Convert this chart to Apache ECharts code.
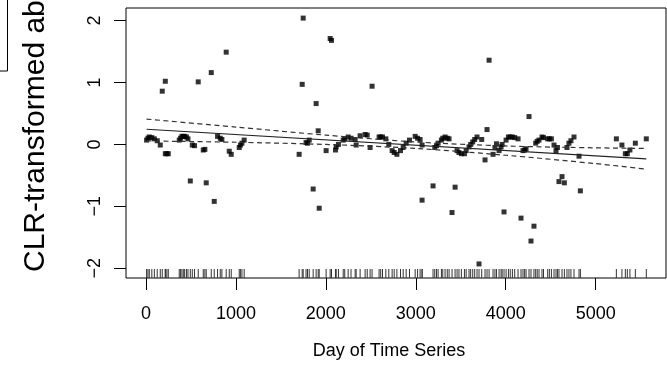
<!DOCTYPE html>
<html>
<head>
<meta charset="utf-8">
<script src="https://cdn.jsdelivr.net/npm/echarts@6/dist/echarts.min.js"></script>
<style>
html,body{margin:0;padding:0;background:#fff;}
#chart{width:667px;height:371px;}
</style>
</head>
<body>
<div id="chart"></div>
<script>
// Observations: day of time series and CLR-transformed abundance
const days = [
  7,22,37,65,93,125,159,181,215,215,232,248,370,385,400,415,430,450,467,493,515,540,581,637,655,670,726,759,796,826,844,892,926,948,1037,1050,1067,1092,
  1703,1737,1748,1780,1796,1815,1859,1892,1915,1926,2003,2048,2063,2107,2115,2140,2193,2210,2248,2280,2326,2337,2381,2437,2460,2492,2514,
  2592,2610,2630,2667,2700,2737,2760,2790,2830,2860,2893,2930,
  2993,3020,3048,3070,3070,3192,3211,3230,3248,3285,3300,3326,3350,3370,3403,3437,3459,3480,3507,3541,3560,3592,3610,3633,3655,3681,3703,3733,3770,
  3792,3815,3859,3880,3897,3926,3948,3960,3981,4004,4030,4050,4074,4100,4137,4170,4192,4210,4226,4259,4281,4314,4333,4350,4370,4403,4420,
  4467,4485,4508,4537,4559,4575,4592,4626,4652,4681,4703,4725,4759,4815,4830,
  5230,5292,5330,5352,5381,5441,5563];
const values = [
  0.07,0.10,0.12,0.11,0.09,0.06,-0.01,0.86,1.02,-0.15,-0.15,-0.15,0.07,0.10,0.13,0.13,0.13,0.12,0.09,-0.59,-0.01,-0.02,1.01,-0.09,-0.08,-0.62,1.16,-0.92,0.13,0.10,0.08,1.49,-0.11,-0.16,-0.05,-0.01,0.02,0.07,
  -0.16,0.97,2.04,0.03,0.02,0.07,-0.72,0.66,0.22,-1.03,-0.10,1.71,1.68,-0.09,-0.04,0.00,0.07,0.09,0.12,0.10,0.08,-0.01,0.14,0.16,0.15,-0.05,0.94,
  0.12,0.12,0.12,0.09,0.00,-0.10,-0.13,-0.16,-0.10,-0.05,0.02,0.07,
  0.13,0.10,0.08,-0.01,-0.90,-0.67,-0.05,-0.02,0.02,0.07,0.10,0.12,0.10,0.09,-1.10,-0.69,-0.10,-0.13,-0.15,-0.15,-0.10,-0.04,0.00,0.04,0.08,0.12,-1.93,0.08,-0.25,
  0.24,1.36,-0.16,-0.05,0.01,-0.10,-0.04,0.00,-1.09,0.07,0.12,0.12,0.12,0.11,0.09,-1.19,-0.10,-0.09,-0.07,0.45,-1.56,-1.32,0.02,0.05,0.07,0.12,0.11,
  0.09,0.09,0.09,-0.01,-0.10,-0.05,-0.60,-0.52,-0.62,-0.05,0.02,0.06,0.12,-0.19,-0.75,
  0.09,-0.01,-0.15,-0.15,-0.09,0.02,0.09];

// Fitted regression line
const fitDays = [7, 5563];
const fitValues = [0.245, -0.234];

// Confidence band (dashed)
const bandDays = [7, 1000, 2000, 3000, 4000, 5000, 5563];
const upperBand = [0.41, 0.28, 0.15, 0.04, -0.025, -0.055, -0.065];
const lowerBand = [0.056, 0.035, 0.0, -0.065, -0.175, -0.31, -0.40];

// Axis ticks
const xTicks = [0, 1000, 2000, 3000, 4000, 5000];
const yTicks = [-2, -1, 0, 1, 2];

const X_MIN = -222, X_MAX = 5782;
const Y_MIN = -2.157, Y_MAX = 2.203;
const FONT = "'Liberation Sans', Arial, Helvetica, sans-serif";

const chart = echarts.init(document.getElementById('chart'), null, {renderer: 'canvas'});

const pair = (xs, ys) => xs.map((x, i) => [x, ys[i]]);

chart.setOption({
  animation: false,
  backgroundColor: '#fff',
  grid: {left: 126, top: 8, width: 540, height: 270, show: true, borderColor: '#000', borderWidth: 1, backgroundColor: 'transparent'},
  xAxis: {
    type: 'value', min: X_MIN, max: X_MAX, position: 'bottom',
    splitLine: {show: false},
    axisLine: {show: false, onZero: false},
    axisTick: {show: true, inside: false, customValues: xTicks, length: 12, lineStyle: {color: '#000', width: 1}},
    axisLabel: {show: true, customValues: xTicks, fontSize: 18, fontFamily: FONT, color: '#000', margin: 27,
      formatter: v => String(v)}
  },
  yAxis: {
    type: 'value', min: Y_MIN, max: Y_MAX, position: 'left',
    splitLine: {show: false},
    axisLine: {show: false, onZero: false},
    axisTick: {show: true, inside: false, customValues: yTicks, length: 12, lineStyle: {color: '#000', width: 1}},
    axisLabel: {show: true, customValues: yTicks, rotate: 90, fontSize: 18, fontFamily: FONT, color: '#000', margin: 22,
      formatter: v => String(v).replace('-', '\u2212')}
  },
  series: [
    {
      type: 'custom',
      data: days.map(d => [d, Y_MIN]),
      encode: {x: 0, y: 1},
      clip: false,
      renderItem: (params, api) => {
        const p = api.coord([api.value(0), Y_MIN]);
        return {type: 'line', shape: {x1: p[0], y1: p[1], x2: p[0], y2: p[1] - 9},
          style: {stroke: '#333', lineWidth: 1}};
      }
    },
    {
      type: 'line', data: pair(fitDays, fitValues), symbol: 'none',
      lineStyle: {color: '#222', width: 1.2}
    },
    {
      type: 'line', data: pair(bandDays, upperBand), symbol: 'none', smooth: 0.3,
      lineStyle: {color: '#333', width: 1.2, type: [5, 3.5]}
    },
    {
      type: 'line', data: pair(bandDays, lowerBand), symbol: 'none', smooth: 0.3,
      lineStyle: {color: '#333', width: 1.2, type: [5, 3.5]}
    },
    {
      type: 'scatter', data: pair(days, values), symbol: 'rect', symbolSize: 5,
      itemStyle: {color: '#000'}
    }
  ],
  graphic: [
    {
      type: 'text', x: 36, y: 272, rotation: Math.PI / 2,
      style: {text: 'CLR-transformed abundance', fontSize: 30, fontFamily: FONT, fill: '#000',
        textAlign: 'left', textVerticalAlign: 'middle'}
    },
    {
      type: 'text', x: 389, y: 351,
      style: {text: 'Day of Time Series', fontSize: 18, fontFamily: FONT, fill: '#000',
        textAlign: 'center', textVerticalAlign: 'middle'}
    },
    {
      type: 'rect', shape: {x: -20, y: -20, width: 27.5, height: 91},
      style: {fill: 'none', stroke: '#000', lineWidth: 1}
    }
  ]
});
</script>
</body>
</html>
